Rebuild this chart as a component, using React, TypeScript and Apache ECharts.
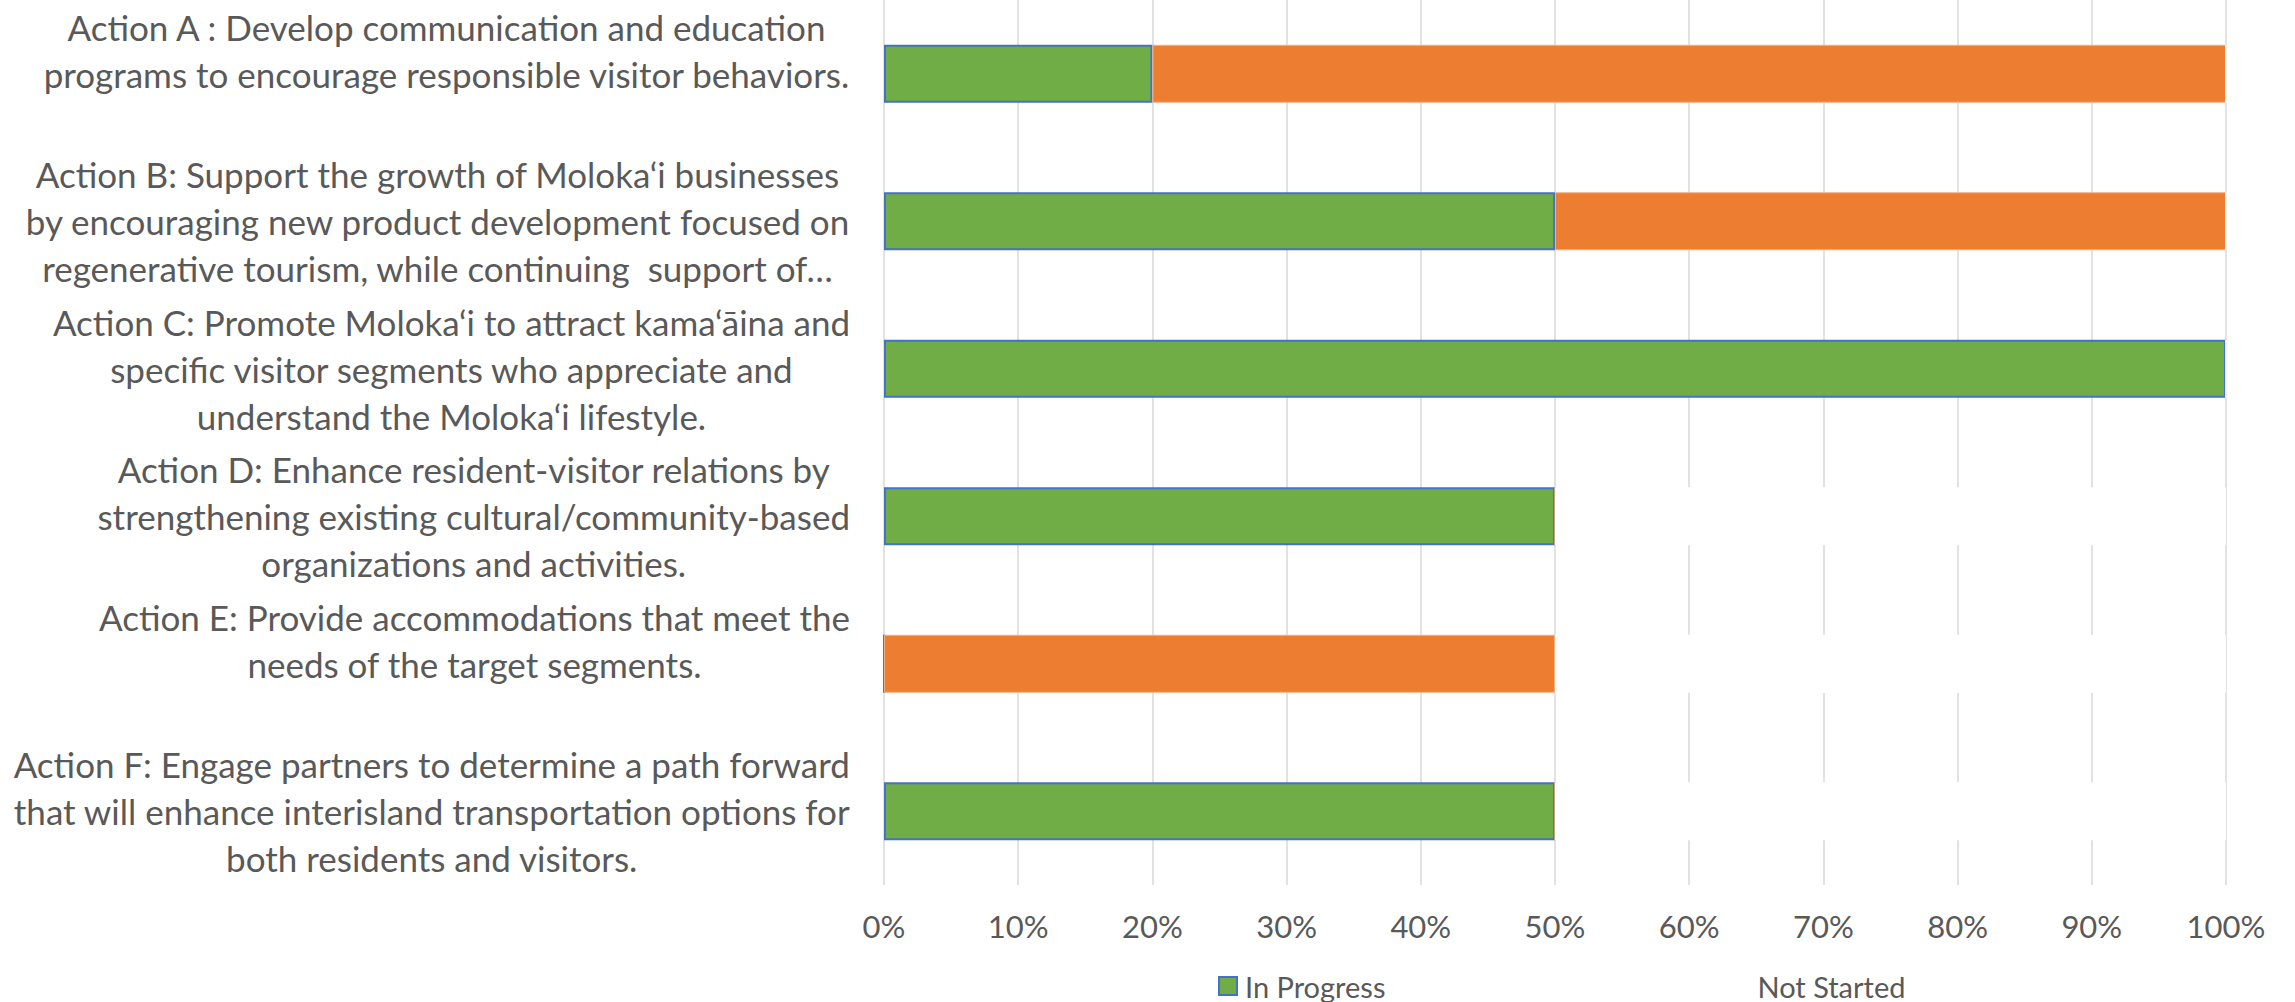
import React, { useEffect, useRef } from "react";
import * as echarts from "echarts";

const categories: string[] = [
  "Action A : Develop communication and education\nprograms to encourage responsible visitor behaviors.\n ",
  "Action B: Support the growth of Moloka‘i businesses\nby encouraging new product development focused on\nregenerative tourism, while continuing  support of…",
  "Action C: Promote Moloka‘i to attract kama‘āina and\nspecific visitor segments who appreciate and\nunderstand the Moloka‘i lifestyle.",
  "Action D: Enhance resident-visitor relations by\nstrengthening existing cultural/community-based\norganizations and activities.",
  "Action E: Provide accommodations that meet the\nneeds of the target segments.\n ",
  "Action F: Engage partners to determine a path forward\nthat will enhance interisland transportation options for\nboth residents and visitors.",
];

const inProgress: number[] = [20, 50, 100, 50, 0, 50];
const otherStatus: number[] = [80, 50, 0, 0, 50, 0];
const notStarted: number[] = [0, 0, 0, 50, 50, 50];

const xTicks: number[] = [0, 10, 20, 30, 40, 50, 60, 70, 80, 90, 100];

const FONT = "Lato, 'Open Sans', sans-serif";
const TEXT_COLOR = "#595959";

export default function App() {
  const ref = useRef<HTMLDivElement>(null);

  useEffect(() => {
    if (!ref.current) return;
    const chart = echarts.init(ref.current, undefined, { renderer: "svg" });
    const labelSize = 35;
    chart.setOption({
      animation: false,
      backgroundColor: "#ffffff",
      grid: { left: 884, right: 69, top: 0, bottom: 117, containLabel: false },
      legend: {
        data: ["In Progress", "Not Started"],
        left: 1218,
        top: 969,
        padding: 0,
        icon: "rect",
        itemWidth: 18,
        itemHeight: 18,
        itemGap: 345,
        textStyle: {
          color: TEXT_COLOR,
          fontFamily: FONT,
          fontSize: 29,
          lineHeight: 34,
          padding: [0, 0, 0, 3],
        },
      },
      xAxis: {
        type: "value",
        min: xTicks[0],
        max: xTicks[xTicks.length - 1],
        interval: xTicks[1] - xTicks[0],
        axisLine: { show: false },
        axisTick: { show: false },
        splitLine: { show: true, lineStyle: { color: "#D9D9D9", width: 1.5 } },
        axisLabel: {
          formatter: "{value}%",
          color: TEXT_COLOR,
          fontFamily: FONT,
          fontSize: 31,
          margin: 25,
        },
      },
      yAxis: {
        type: "category",
        data: categories,
        inverse: true,
        axisLine: { show: false },
        axisTick: { show: false },
        axisLabel: {
          align: "right",
          margin: 34,
          color: TEXT_COLOR,
          fontFamily: FONT,
          fontSize: labelSize,
          lineHeight: 47,
          formatter: (value: string) =>
            value
              .split("\n")
              .map((l) => `{c|${l.length ? l : " "}}`)
              .join("\n"),
          rich: {
            c: {
              align: "center",
              color: TEXT_COLOR,
              fontFamily: FONT,
              fontSize: labelSize,
              lineHeight: 47,
            },
          },
        },
      },
      series: [
        {
          name: "In Progress",
          type: "bar",
          stack: "total",
          barWidth: 58,
          data: inProgress,
          itemStyle: { color: "#70AD47", borderColor: "#4472C4", borderWidth: 2 },
        },
        {
          name: "Other",
          type: "bar",
          stack: "total",
          barWidth: 58,
          data: otherStatus,
          itemStyle: { color: "#ED7D31", borderColor: "#F4B183", borderWidth: 1 },
        },
        {
          name: "Not Started",
          type: "bar",
          stack: "total",
          barWidth: 58,
          data: notStarted,
          itemStyle: { color: "#FFFFFF", borderColor: "#FFFFFF", borderWidth: 1 },
        },
      ],
    });
    return () => chart.dispose();
  }, []);

  return (
    <div
      ref={ref}
      style={{ position: "fixed", left: 0, top: 0, width: 2295, height: 1002 }}
    />
  );
}
